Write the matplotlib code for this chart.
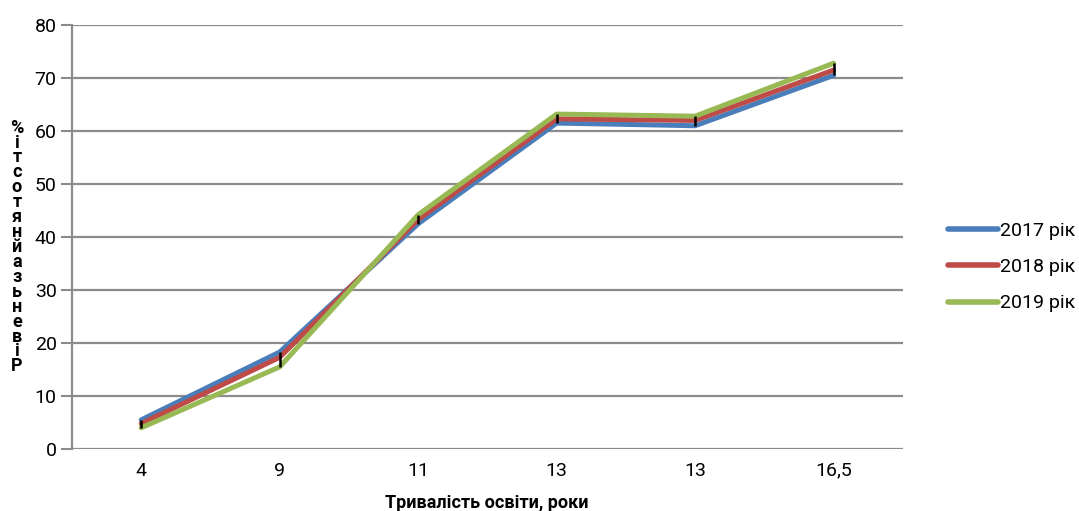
import matplotlib
matplotlib.use("Agg")
import matplotlib.pyplot as plt
import numpy as np

categories = ['4', '9', '11', '13', '13', '16,5']
series_names = ['2017 рік', '2018 рік', '2019 рік']
v2017 = [5.5, 18.3, 42.5, 61.5, 61.0, 70.5]
v2018 = [4.8, 17.3, 43.3, 62.3, 62.0, 71.5]
v2019 = [4.0, 15.5, 44.2, 63.2, 62.8, 72.8]
y_ticks = [0, 10, 20, 30, 40, 50, 60, 70, 80]
xlabel = 'Тривалість освіти, роки'
ylabel = 'Рівень зайнятості, %'

plt.rcParams['font.family'] = ['Roboto', 'DejaVu Sans']

fig = plt.figure(figsize=(10.79, 5.11), dpi=100)
ax = fig.add_axes([0.0667, 0.1213, 0.770, 0.8297])

x = np.arange(len(categories))
colors = ['#4a7ebb', '#be4b48', '#98b954']
for vals, c, n in zip([v2017, v2018, v2019], colors, series_names):
    ax.plot(x, vals, color=c, lw=3.6, label=n, solid_capstyle='round', zorder=3)

lo = np.minimum(np.minimum(v2017, v2018), v2019)
hi = np.maximum(np.maximum(v2017, v2018), v2019)
ax.vlines(x, lo, hi, color='black', lw=1.8, zorder=4)

ax.set_xlim(-0.5, len(categories) - 0.5)
ax.set_ylim(0, 80)
ax.set_yticks(y_ticks)
ax.set_xticks(x)
ax.set_xticklabels(categories, fontsize=14)
ax.tick_params(axis='y', labelsize=14, length=8, width=1.5, color='#8c8c8c', pad=3)
ax.tick_params(axis='x', length=0, pad=9)
ax.grid(axis='y', color='#8c8c8c', lw=1.6)
ax.set_axisbelow(True)
for s in ['top', 'right', 'bottom']:
    ax.spines[s].set_visible(False)
ax.spines['left'].set_color('#8c8c8c')
ax.spines['left'].set_linewidth(1.6)

fig.text(487 / 1079, 1 - 503 / 511, xlabel, ha='center', va='center',
         fontsize=13, fontweight='bold')

chars = [ch for ch in ylabel if ch not in ' ,']
stacked = '\n'.join(reversed(chars))
fig.text(17 / 1079, 1 - 247 / 511, stacked, ha='center', va='center',
         fontsize=13, fontweight='bold', linespacing=0.78)

leg = fig.legend(loc='center left', bbox_to_anchor=(0.862, 1 - 267 / 511),
                 frameon=False, fontsize=14, handlelength=2.6,
                 handletextpad=0.1, labelspacing=0.95)
for line in leg.get_lines():
    line.set_linewidth(4)

fig.savefig('out.png', dpi=100)
